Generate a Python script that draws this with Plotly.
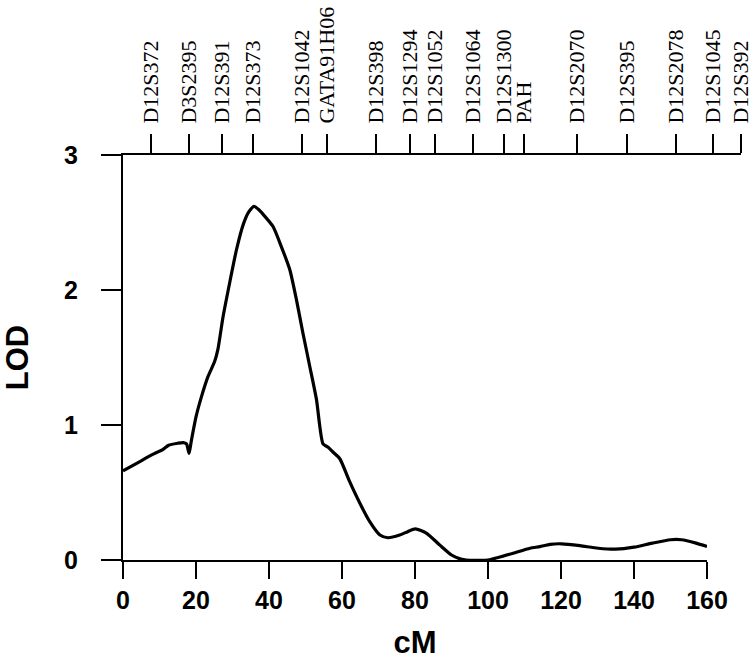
import plotly.graph_objects as go

# LOD curve
cm = [0, 4, 8, 11, 12.5, 15, 16.5, 17.4, 18.1, 18.7, 20, 21.5, 23.3, 25.1, 26,
      27.4, 29.2, 31.1, 33, 34.5, 35.9, 37, 38.4, 41.1, 43.4, 45.7, 47.5, 49.3,
      51.2, 53, 54.8, 56.2, 57.5, 59.4, 62.1, 64.9, 67.6, 70.4, 72.6, 75.8, 78,
      80.1, 83.2, 86.8, 90, 92.8, 94, 100, 103, 106.9, 111.5, 114.2, 117, 120.2,
      125.2, 130.2, 135, 140, 145, 150, 153, 157, 160]
lod = [0.66, 0.72, 0.78, 0.82, 0.85, 0.865, 0.87, 0.86, 0.79, 0.88, 1.06, 1.21,
       1.36, 1.47, 1.56, 1.80, 2.05, 2.30, 2.49, 2.58, 2.62, 2.60, 2.56, 2.47,
       2.32, 2.15, 1.93, 1.68, 1.43, 1.19, 0.86, 0.835, 0.80, 0.75, 0.58, 0.42,
       0.284, 0.185, 0.165, 0.185, 0.21, 0.23, 0.198, 0.11, 0.037, 0.005, 0, 0,
       0.02, 0.05, 0.087, 0.099, 0.116, 0.12, 0.106, 0.087, 0.08, 0.095, 0.125,
       0.15, 0.15, 0.125, 0.10]

# markers along the top (cM)
marker_names = ['D12S372', 'D3S2395', 'D12S391', 'D12S373', 'D12S1042',
                'GATA91H06', 'D12S398', 'D12S1294', 'D12S1052', 'D12S1064',
                'D12S1300', 'PAH', 'D12S2070', 'D12S395', 'D12S2078',
                'D12S1045', 'D12S392']
marker_cm = [7.6, 18.1, 27.0, 35.6, 49.1, 55.9, 69.2, 78.6, 85.4, 95.8, 104.4,
             109.8, 124.3, 138.0, 151.4, 161.5, 169.2]

x_ticks = [0, 20, 40, 60, 80, 100, 120, 140, 160]
y_ticks = [0, 1, 2, 3]

sans = 'Liberation Sans, Arial, sans-serif'
serif = 'Liberation Serif, Times New Roman, serif'

fig = go.Figure()
# invisible trace so the marker axis gets its own subplot
fig.add_trace(go.Scatter(x=marker_cm, y=[3] * len(marker_cm), xaxis='x2',
                         mode='markers', marker=dict(opacity=0),
                         showlegend=False, hoverinfo='skip'))
fig.add_trace(go.Scatter(x=cm, y=lod, mode='lines',
                         line=dict(color='black', width=3.2, shape='spline', smoothing=0.6),
                         showlegend=False, hoverinfo='skip'))

fig.update_layout(
    width=754, height=667,
    margin=dict(l=123, r=13, t=155, b=107, autoexpand=False),
    paper_bgcolor='white', plot_bgcolor='rgba(0,0,0,0)',
    xaxis=dict(domain=[0, 0.945], range=[0, 160], tickvals=x_ticks,
               ticks='outside', ticklen=17, tickwidth=2, tickcolor='black',
               showline=True, linewidth=2, linecolor='black',
               showgrid=False, zeroline=False, automargin=False,
               ticklabelstandoff=0,
               tickfont=dict(family=sans, size=25, color='black', weight='bold'),
               title=dict(text='cM', standoff=18,
                          font=dict(family=sans, size=31, color='black', weight='bold'))),
    xaxis2=dict(domain=[0, 1], range=[0, 169.3], anchor='y', side='top',
                tickvals=marker_cm, ticktext=marker_names, tickangle=-90,
                ticks='outside', ticklen=19, tickwidth=2, tickcolor='black',
                showline=True, linewidth=2, linecolor='black',
                showgrid=False, zeroline=False, automargin=False,
                ticklabelstandoff=6,
                tickfont=dict(family=serif, size=22, color='black')),
    yaxis=dict(range=[0, 3], tickvals=y_ticks, anchor='x',
               ticks='outside', ticklen=20, tickwidth=2, tickcolor='black',
               showline=True, linewidth=2, linecolor='black',
               showgrid=False, zeroline=False, automargin=False,
               ticklabelstandoff=18,
               tickfont=dict(family=sans, size=25, color='black', weight='bold'),
               title=dict(text='LOD', standoff=28,
                          font=dict(family=sans, size=31, color='black', weight='bold'))),
)

# drop the default 8px body margin so the figure fills the window
fig.write_html('out.html', config={'displayModeBar': False},
               post_script="document.body.style.margin='0';")
